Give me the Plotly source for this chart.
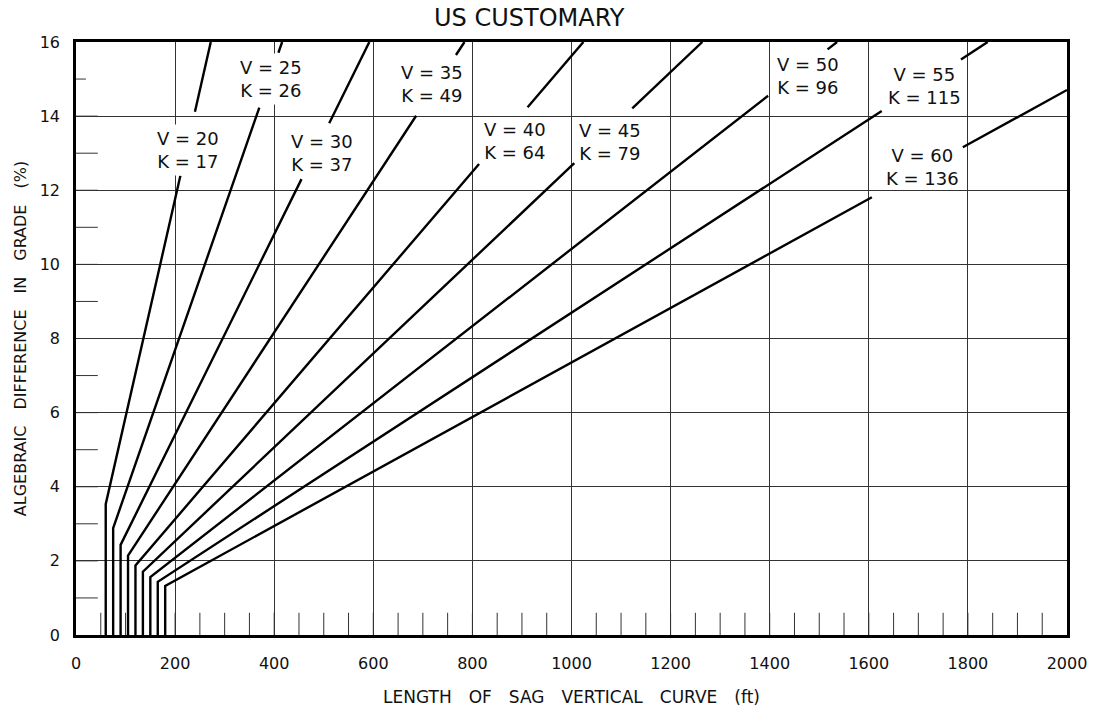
import plotly.graph_objects as go

# ---- data ----
speeds = [20, 25, 30, 35, 40, 45, 50, 55, 60]            # design speed (mph)
k_values = [17, 26, 37, 49, 64, 79, 96, 115, 136]        # rate of vertical curvature K
min_lengths = [60, 75, 90, 105, 120, 135, 150, 165, 180]  # minimum curve length (ft)
gap_start_A = [12.39, 14.23, 12.30, 14.01, 12.71, 12.73, 14.55, 14.14, 11.81]  # A where line breaks for label
gap_end_A = [14.12, 15.71, 13.81, 15.65, 14.24, 14.21, 15.80, 15.53, 13.16]    # A where line resumes
label_x = [226, 394, 496, 719, 885, 1077, 1478, 1713, 1708]
label_y = [13.09, 14.99, 13.01, 14.86, 13.33, 13.31, 15.09, 14.80, 12.64]
label_masked = [True, True, False, False, False, False, False, False, False]

x_ticks = [0, 200, 400, 600, 800, 1000, 1200, 1400, 1600, 1800, 2000]
y_ticks = [0, 2, 4, 6, 8, 10, 12, 14, 16]
x_minor = list(range(50, 2000, 50))
y_minor = [1, 2, 3, 4, 5, 6, 7, 8, 9, 10, 11, 12, 13, 14, 15]
y_minor_len = [44, 44, 44, 44, 44, 44, 44, 44, 44, 44, 44, 44, 44, 44, 20]

X_MAX = 2000
Y_MAX = 16

fig = go.Figure()

# minor ticks along bottom and left edges
mx, my = [], []
for v in x_minor:
    mx += [v, v, None]
    my += [0, 0.6, None]
for v, ln in zip(y_minor, y_minor_len):
    mx += [0, ln, None]
    my += [v, v, None]
fig.add_trace(go.Scatter(x=mx, y=my, mode="lines", line=dict(color="#333", width=1),
                         hoverinfo="skip", showlegend=False))

# design curves
for V, K, Lmin, ga, gb in zip(speeds, k_values, min_lengths, gap_start_A, gap_end_A):
    a_break = Lmin / K
    a_top = min(Y_MAX, X_MAX / K)
    xs = [Lmin, Lmin, K * ga, None, K * gb, K * a_top]
    ys = [0, a_break, ga, None, gb, a_top]
    fig.add_trace(go.Scatter(x=xs, y=ys, mode="lines", line=dict(color="black", width=2.4),
                             name=f"V = {V}", showlegend=False, hoverinfo="skip"))

for V, K, lx, ly, m in zip(speeds, k_values, label_x, label_y, label_masked):
    fig.add_annotation(x=lx, y=ly, xref="x", yref="y", showarrow=False,
                       text=f"V = {V}<br>K = {K}",
                       font=dict(family="DejaVu Sans", size=18, color="#111"),
                       bgcolor="white" if m else "rgba(0,0,0,0)", borderpad=3)

fig.update_layout(
    width=1098, height=713,
    margin=dict(l=76, r=31, t=42, b=78),
    paper_bgcolor="white", plot_bgcolor="white",
    font=dict(family="DejaVu Sans", size=16, color="#111"),
    title=dict(text="US CUSTOMARY", x=0.482, xanchor="center", y=0.976, yanchor="middle",
               font=dict(family="DejaVu Sans", size=24, color="#111")),
)
fig.update_xaxes(range=[0, X_MAX], tickvals=x_ticks, ticks="", showgrid=True, automargin=False,
                 gridcolor="#333", gridwidth=1, showline=True, linecolor="black", linewidth=2.5,
                 mirror=True, zeroline=False, ticklabelstandoff=12,
                 title=dict(text="LENGTH\u2003OF\u2003SAG\u2003VERTICAL\u2003CURVE\u2003(ft)",
                            standoff=20, font=dict(size=17)))
fig.update_yaxes(range=[0, Y_MAX], tickvals=y_ticks, ticks="", showgrid=True, automargin=False,
                 gridcolor="#333", gridwidth=1, showline=True, linecolor="black", linewidth=2.5,
                 mirror=True, zeroline=False, ticklabelstandoff=10,
                 title=dict(text="ALGEBRAIC\u2003DIFFERENCE\u2003IN\u2003GRADE\u2003(%)",
                            standoff=10, font=dict(size=16)))

fig.write_html("out.html", config={"displayModeBar": False},
               post_script="document.body.style.margin='0';")
